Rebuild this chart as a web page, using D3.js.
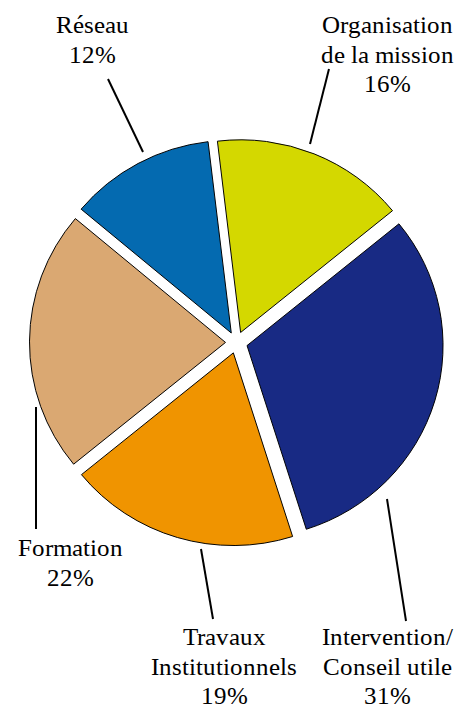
<!DOCTYPE html>
<html>
<head>
<meta charset="utf-8">
<script src="https://cdn.jsdelivr.net/npm/d3@7"></script>
<style>
  @font-face { font-family: "ChartSerif"; src: local("Liberation Serif"), local("LiberationSerif"), local("LiberationSerif-Regular"), local("Tinos"), local("Times New Roman"); }
  body { margin: 0; }
</style>
</head>
<body>
<svg id="s" width="456" height="704"></svg>
<script>
// ---- data ----
const categories = ["Organisation de la mission", "Intervention/ Conseil utile", "Travaux Institutionnels", "Formation", "Réseau"];
const values = [16, 31, 19, 22, 12];
const labelLines = [
  ["Organisation", "de la mission", "16%"],
  ["Intervention/", "Conseil utile", "31%"],
  ["Travaux", "Institutionnels", "19%"],
  ["Formation", "22%"],
  ["Réseau", "12%"]
];
const colors = ["#D4D800", "#182A84", "#F09400", "#DAA872", "#046AB0"];

// ---- layout (label anchors & leader lines) ----
const labelPos = [
  {x: 387.5, y: 33, lx1: 310, ly1: 144, lx2: 329, ly2: 69},
  {x: 387.5, y: 645, lx1: 387, ly1: 499, lx2: 406, ly2: 621},
  {x: 224, y: 645, lx1: 201, ly1: 549, lx2: 213, ly2: 619},
  {x: 70, y: 556, lx1: 36, ly1: 407, lx2: 36, ly2: 529},
  {x: 92.5, y: 33, lx1: 143, ly1: 152, lx2: 108, ly2: 79}
];

const svg = d3.select("#s");
const cx = 236.5, cy = 342.5, R = 196, explode = 11, sy = 0.983;
const start = -6.8 * Math.PI / 180;

const pie = d3.pie().sort(null).value(d => d)
  .startAngle(start).endAngle(start + 2 * Math.PI);
const arc = d3.arc().innerRadius(0).outerRadius(R);
const arcs = pie(values);

const g = svg.append("g").attr("transform", `translate(${cx},${cy}) scale(1,${sy})`);
g.selectAll("path").data(arcs).enter().append("path")
  .attr("d", arc)
  .attr("transform", d => {
    const m = (d.startAngle + d.endAngle) / 2;
    return `translate(${explode * Math.sin(m)},${-explode * Math.cos(m)})`;
  })
  .attr("fill", (d, i) => colors[i])
  .attr("stroke", "#000")
  .attr("stroke-width", 1);

// leader lines
svg.append("g").selectAll("line").data(labelPos).enter().append("line")
  .attr("x1", d => d.lx1).attr("y1", d => d.ly1)
  .attr("x2", d => d.lx2).attr("y2", d => d.ly2)
  .attr("stroke", "#000").attr("stroke-width", 2);

// labels
const lh = 29.5;
const lineData = [];
labelLines.forEach((lines, i) => lines.forEach((s, j) =>
  lineData.push({s, x: labelPos[i].x, y: labelPos[i].y + j * lh})));
svg.append("g").selectAll("text").data(lineData).enter().append("text")
  .attr("x", d => d.x).attr("y", d => d.y)
  .attr("text-anchor", "middle")
  .style("font-family", 'ChartSerif, "Liberation Serif", Tinos, "Times New Roman"')
  .style("font-size", "25px")
  .text(d => d.s);
</script>
</body>
</html>
